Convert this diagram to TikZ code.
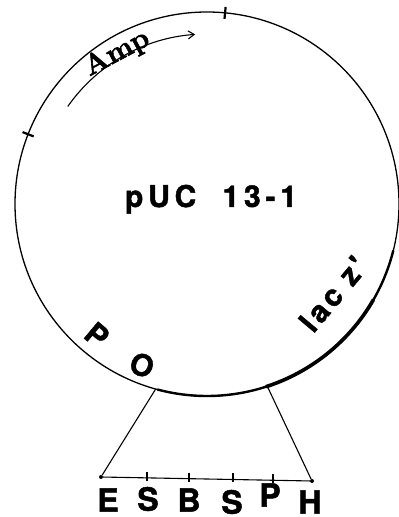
\documentclass[tikz,border=0pt]{standalone}
\usepackage{fontspec}
\usetikzlibrary{arrows.meta}
\setmainfont{Latin Modern Roman}[BoldFeatures={FakeBold=2}]
\newfontfamily\hvfont[LetterSpace=12, BoldFeatures={FakeBold=1.5}]{TeX Gyre Heros}
\newfontfamily\hvwide[LetterSpace=16, BoldFeatures={FakeBold=1.5}]{TeX Gyre Heros}
\newfontfamily\hvplain[BoldFeatures={FakeBold=1.5}]{TeX Gyre Heros}
\tikzset{
  ring/.style={line width=1.3pt},
  heavy/.style={line width=2.4pt},
  heavier/.style={line width=3.6pt, line cap=round},
  conn/.style={line width=1.1pt},
  sitetick/.style={line width=1.1pt},
  maptick/.style={line width=2.2pt},
  lbl/.style={font=\hvfont\bfseries\fontsize{30}{33}\selectfont, inner sep=0pt},
  namelbl/.style={font=\hvwide\bfseries\fontsize{30}{33}\selectfont, inner sep=0pt},
  sitelbl/.style={font=\hvplain\bfseries\fontsize{32}{34}\selectfont, inner sep=0pt},
  amplbl/.style={font=\bfseries\fontsize{29}{31}\selectfont, inner sep=0pt},
  endpt/.style={circle, fill=black, inner sep=0pt, minimum size=4pt},
}
\begin{document}
\begin{tikzpicture}[x=1pt,y=1pt]
\useasboundingbox (0,0) rectangle (399,517);
\begin{scope}[shift={(207,313)}]
  % plasmid ring
  \draw[ring] (0,0) circle (192);
  \draw[heavy] (-105:192) arc (-105:-14:192);
  \draw[heavier] (-72:192) arc (-72:-30:192);
  % map ticks
  \draw[maptick] (84.6:186) -- (84.6:198);
  \draw[maptick] (158.7:186) -- (158.7:198);
  % Amp arrow
  \coordinate (ampS) at (145:170);
  \draw[line width=1.1pt, -{Straight Barb[length=6pt,width=8pt]}] (ampS) arc (145:94:170);
  \node[amplbl, anchor=base, rotate=28] (amp) at (121:168) {Amp};
  % name
  \node[namelbl, anchor=base] (name) at (4,-3) {pUC\ \ 13-1};
  % promoter / operator
  \node[lbl, rotate=-40] (prom) at (-110,-131) {P};
  \node[lbl, rotate=-22] (oper) at (-65,-161) {O};
  % lac z'
  \node[lbl, rotate=50] (lacz) at (126,-90) {lac z'};
  % polylinker
  \coordinate (L) at (-105.5:192);
  \coordinate (R) at (-71.7:192);
  \node[endpt] (e0) at (-106,-273) {};
  \node[endpt] (h0) at (105,-277) {};
  \draw[conn] (L) -- (e0);
  \draw[conn] (R) -- (h0);
  \draw[conn] (e0) -- (h0);
  \coordinate (t1) at (-60,-273.9);
  \coordinate (t2) at (-18,-274.7);
  \coordinate (t3) at (26,-275.5);
  \coordinate (t4) at (66,-276.3);
  \foreach \t in {t1,t2,t3,t4} \draw[sitetick] ([yshift=6pt]\t) -- ([yshift=-3pt]\t);
  \node[sitelbl] (sE) at (-99,-296) {E};
  \node[sitelbl] (sS1) at (-59,-295) {S};
  \node[sitelbl] (sB) at (-18,-296) {B};
  \node[sitelbl] (sS2) at (25,-298) {S};
  \node[sitelbl] (sP) at (63,-291) {P};
  \node[sitelbl] (sH) at (103,-298) {H};
\end{scope}
\end{tikzpicture}
\end{document}
